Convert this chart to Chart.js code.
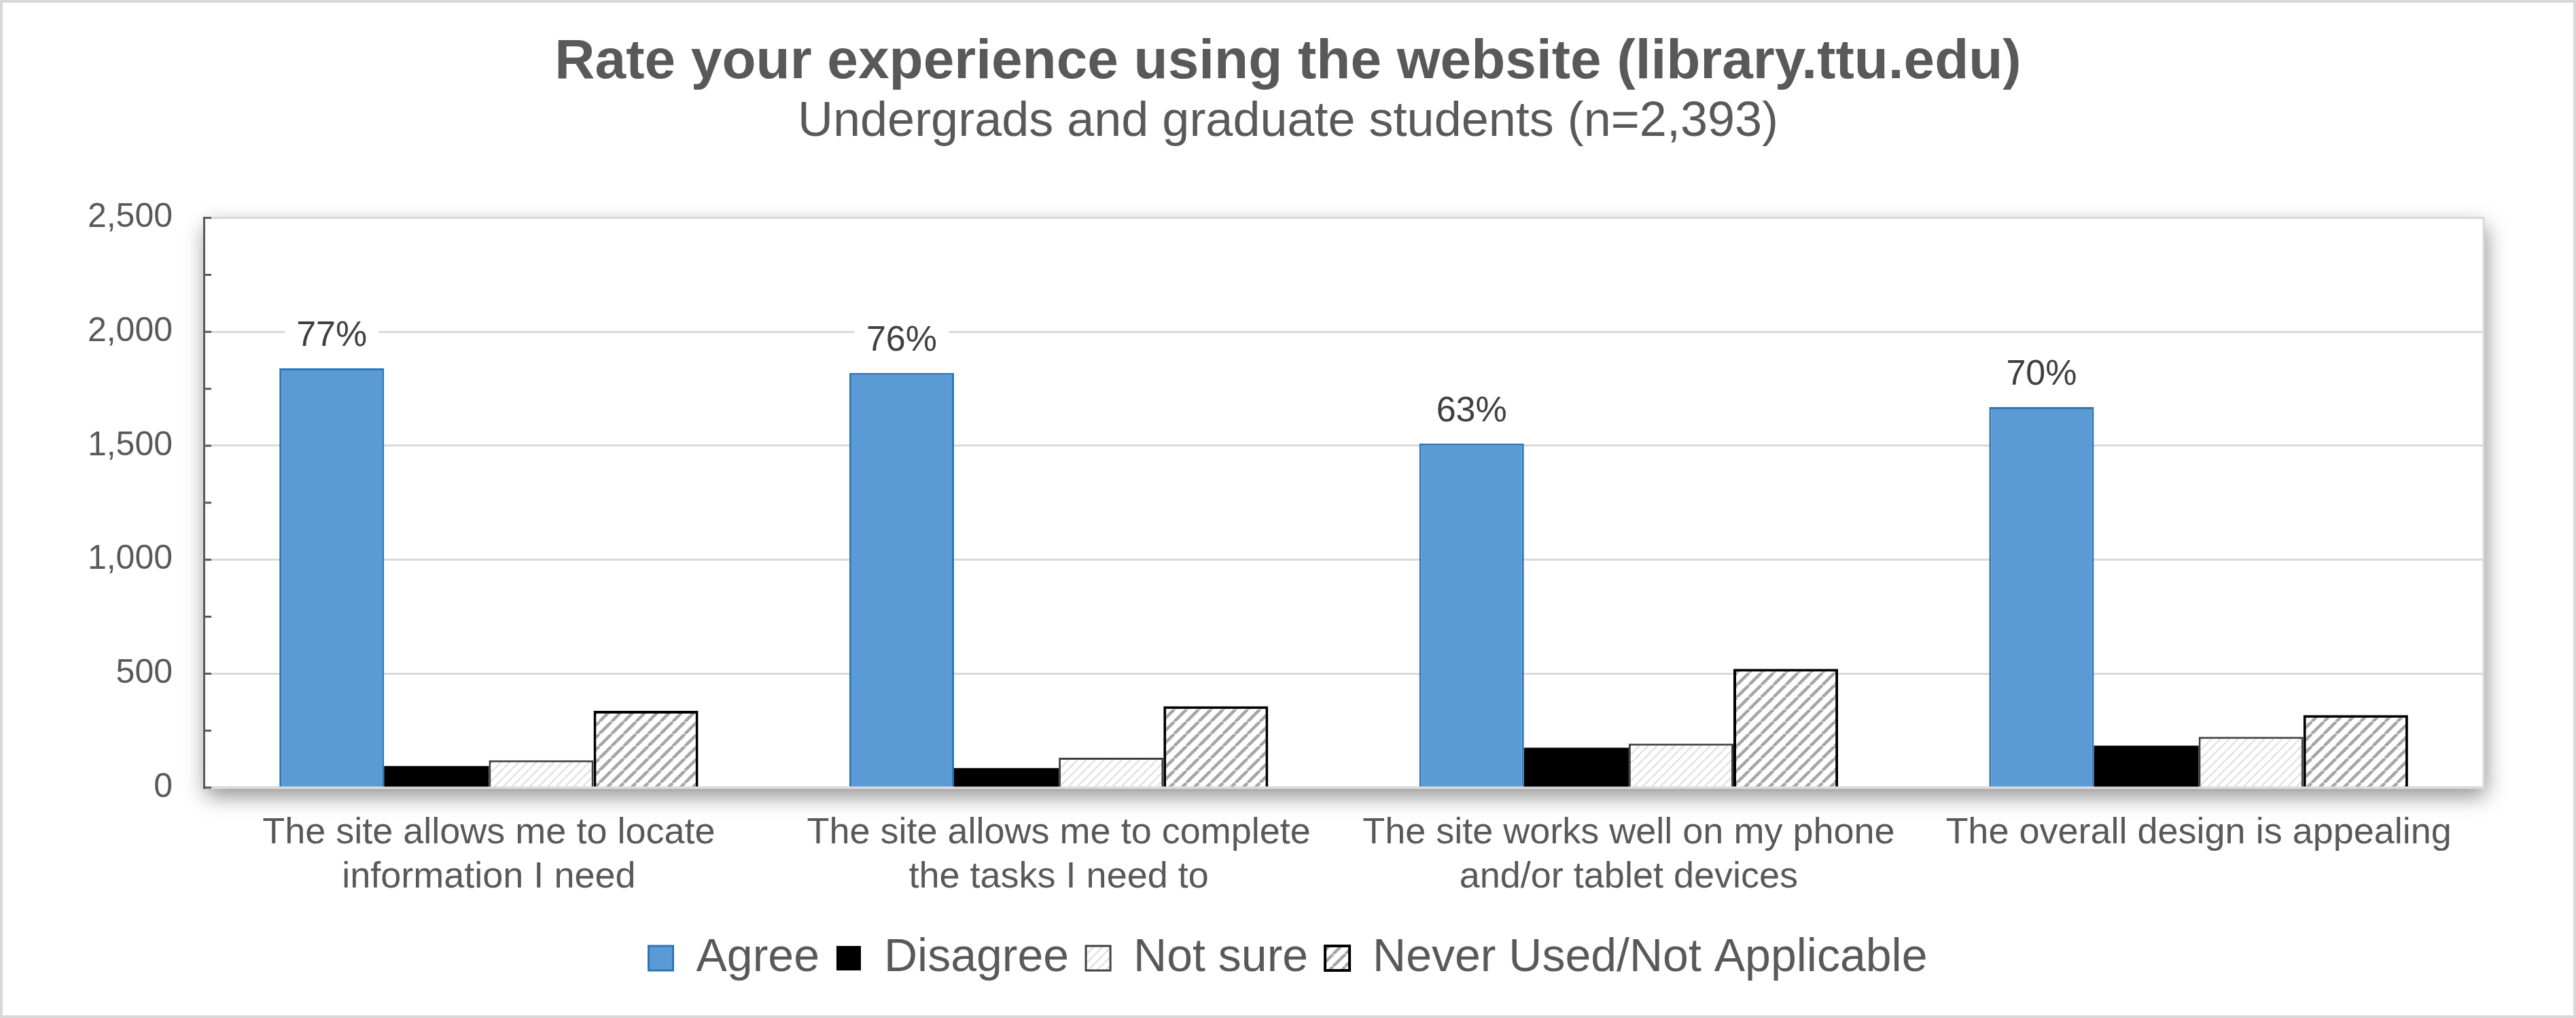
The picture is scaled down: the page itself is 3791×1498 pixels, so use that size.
<!DOCTYPE html>
<html>
<head>
<meta charset="utf-8">
<title>Rate your experience using the website</title>
<script src="https://cdn.jsdelivr.net/npm/chart.js@4.4.1/dist/chart.umd.min.js"></script>
<style>
  html, body { margin: 0; padding: 0; background: #fff; }
  #wrap { width: 3791px; height: 1498px; }
</style>
</head>
<body>
<div id="wrap"><canvas id="chart" width="3791" height="1498"></canvas></div>
<script>
// data
const categories = [
  ['The site allows me to locate', 'information I need'],
  ['The site allows me to complete', 'the tasks I need to'],
  ['The site works well on my phone', 'and/or tablet devices'],
  ['The overall design is appealing']
];
const seriesNames = ['Agree', 'Disagree', 'Not sure', 'Never Used/Not Applicable'];
const agree = [1840, 1820, 1510, 1670];
const disagree = [95, 86, 175, 184];
const notSure = [120, 131, 193, 223];
const neverUsed = [337, 357, 521, 318];
const agreePct = ['77%', '76%', '63%', '70%'];
const yMin = 0, yMax = 2500, yMajor = 500, yMinor = 250;

const FONT = "'Liberation Sans', Arial, sans-serif";
const GREY_TEXT = '#595959';

// diagonal "/" hatch fill
function hatch(size, stripe, width) {
  const c = document.createElement('canvas');
  c.width = size; c.height = size;
  const g = c.getContext('2d');
  g.fillStyle = '#fff';
  g.fillRect(0, 0, size, size);
  g.strokeStyle = stripe;
  g.lineWidth = width;
  for (let k = -1; k <= 1; k++) {
    g.beginPath();
    g.moveTo(k * size, size);
    g.lineTo(k * size + size, 0);
    g.stroke();
  }
  return g.createPattern(c, 'repeat');
}
const ctx = document.getElementById('chart').getContext('2d');
const notSureFill = hatch(13, '#e2e2e2', 2.5);
const neverFill = hatch(18, '#a6a6a6', 4.5);

// white plot area with a soft drop shadow + frame
const plotShadow = {
  id: 'plotShadow',
  beforeDraw(chart) {
    const {ctx, chartArea: a} = chart;
    ctx.save();
    ctx.fillStyle = '#fff';
    ctx.fillRect(0, 0, chart.width, chart.height);
    ctx.shadowColor = 'rgba(0,0,0,0.45)';
    ctx.shadowBlur = 30;
    ctx.shadowOffsetX = 3;
    ctx.shadowOffsetY = 12;
    ctx.fillRect(a.left, a.top, a.right - a.left, a.bottom - a.top);
    ctx.restore();
    ctx.save();
    ctx.strokeStyle = '#d9d9d9';
    ctx.lineWidth = 3;
    ctx.strokeRect(a.left, a.top, a.right - a.left, a.bottom - a.top);
    ctx.restore();
  },
  afterDraw(chart) {
    const {ctx} = chart;
    ctx.save();
    ctx.strokeStyle = '#d9d9d9';
    ctx.lineWidth = 4;
    ctx.strokeRect(2, 2, chart.width - 4, chart.height - 4);
    ctx.restore();
  }
};

// inward minor/major tick marks on the value axis
const innerTicks = {
  id: 'innerTicks',
  afterDraw(chart) {
    const y = chart.scales.y, {ctx} = chart;
    ctx.save();
    ctx.strokeStyle = GREY_TEXT;
    ctx.lineWidth = 3;
    for (let v = yMin; v <= yMax; v += yMinor) {
      const py = y.getPixelForValue(v);
      ctx.beginPath();
      ctx.moveTo(y.right, py);
      ctx.lineTo(y.right + 11, py);
      ctx.stroke();
    }
    ctx.restore();
  }
};

// percentage labels above the Agree bars
const pctLabels = {
  id: 'pctLabels',
  afterDatasetsDraw(chart) {
    const {ctx} = chart;
    const meta = chart.getDatasetMeta(0);
    ctx.save();
    ctx.font = '52px ' + FONT;
    ctx.textAlign = 'center';
    ctx.textBaseline = 'middle';
    meta.data.forEach((bar, i) => {
      const cy = bar.y - 47;
      const w = ctx.measureText(agreePct[i]).width + 34;
      ctx.fillStyle = '#fff';
      ctx.fillRect(bar.x - w / 2, cy - 30, w, 60);
      ctx.fillStyle = '#404040';
      ctx.fillText(agreePct[i], bar.x, cy);
    });
    ctx.restore();
  }
};

new Chart(ctx, {
  type: 'bar',
  data: {
    labels: categories,
    datasets: [
      {label: seriesNames[0], data: agree, backgroundColor: '#5b9bd5', borderColor: '#2e75b6', borderWidth: 3},
      {label: seriesNames[1], data: disagree, backgroundColor: '#000', borderColor: '#000', borderWidth: 0},
      {label: seriesNames[2], data: notSure, backgroundColor: notSureFill, borderColor: '#404040', borderWidth: 3},
      {label: seriesNames[3], data: neverUsed, backgroundColor: neverFill, borderColor: '#000', borderWidth: 4}
    ]
  },
  options: {
    responsive: false,
    animation: false,
    devicePixelRatio: 1,
    categoryPercentage: 0.735,
    barPercentage: 1,
    layout: {padding: {left: 0, right: 0, top: 0, bottom: 44}},
    plugins: {
      title: {
        display: true,
        text: 'Rate your experience using the website (library.ttu.edu)',
        color: GREY_TEXT,
        font: {family: FONT, size: 82, weight: 'bold', lineHeight: 1.1},
        padding: {top: 47, bottom: 0}
      },
      subtitle: {
        display: true,
        text: 'Undergrads and graduate students (n=2,393)',
        color: GREY_TEXT,
        font: {family: FONT, size: 72},
        padding: {top: 0, bottom: 97}
      },
      legend: {
        position: 'bottom',
        labels: {
          color: GREY_TEXT,
          font: {family: FONT, size: 68},
          boxWidth: 36,
          boxHeight: 36,
          padding: 25
        }
      },
      tooltip: {enabled: false}
    },
    scales: {
      x: {
        grid: {display: false, drawTicks: false},
        border: {color: '#d9d9d9', width: 4},
        ticks: {
          color: GREY_TEXT,
          font: {family: FONT, size: 54},
          padding: 35,
          maxRotation: 0,
          autoSkip: false
        },
        afterFit(s) { s.height = 192; }
      },
      y: {
        min: yMin,
        max: yMax,
        grid: {
          drawTicks: false,
          lineWidth: 3,
          color: c => (c.tick && c.tick.value % yMajor === 0) ? '#d9d9d9' : 'rgba(0,0,0,0)'
        },
        border: {color: GREY_TEXT, width: 3},
        ticks: {
          stepSize: yMinor,
          color: GREY_TEXT,
          font: {family: FONT, size: 50},
          padding: 46,
          callback: v => v % yMajor === 0 ? v.toLocaleString('en-US') : ''
        },
        afterFit(s) { s.width = 300; }
      },
      // empty right-hand gutter so titles and legend stay centred on the page
      gutter: {
        position: 'right',
        min: yMin,
        max: yMax,
        grid: {display: false, drawTicks: false},
        border: {display: false},
        ticks: {display: false},
        afterFit(s) { s.width = 136; }
      }
    }
  },
  plugins: [plotShadow, innerTicks, pctLabels]
});
</script>
</body>
</html>
